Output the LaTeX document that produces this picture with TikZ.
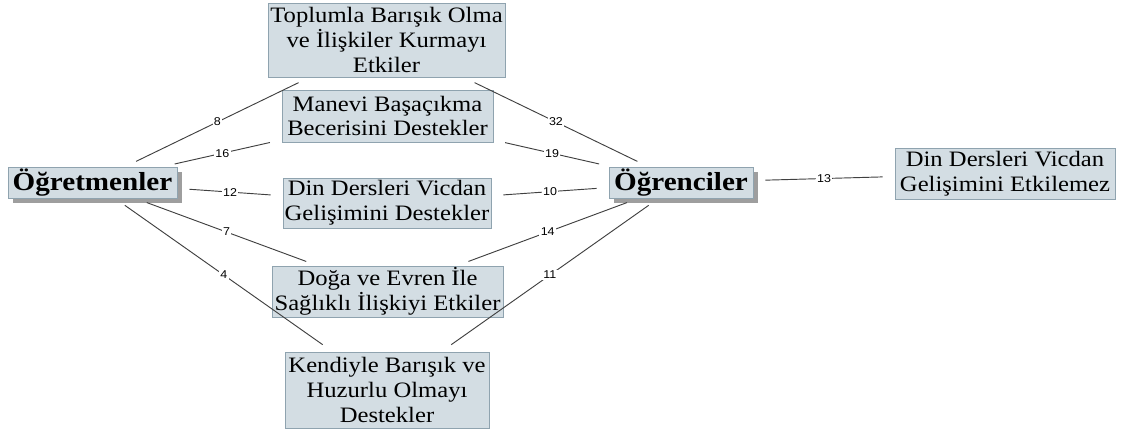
\documentclass[tikz,border=0pt]{standalone}
\usepackage{fontspec}
\setmainfont{Liberation Serif}[FakeStretch=1.12]
\newfontfamily\numfont{Liberation Sans}[FakeStretch=1.1]
\usetikzlibrary{shadows}
\definecolor{boxfill}{HTML}{D3DDE3}
\definecolor{boxline}{HTML}{8FA3AF}
\definecolor{linkgray}{HTML}{404040}
\tikzset{
  item/.style={draw=boxline, fill=boxfill, line width=0.6pt, inner sep=0pt, align=center,
    font=\fontsize{16.5}{18.5}\selectfont},
  group/.style={item, font=\fontsize{19.5}{22}\selectfont\bfseries,
    drop shadow={shadow xshift=3.5pt, shadow yshift=-3.5pt, fill=black!38, opacity=1}},
  link/.style={draw=linkgray, line width=0.7pt, shorten >=9pt, shorten <=9pt},
  count/.style={fill=white, inner sep=1pt, font=\numfont\fontsize{8.5}{9}\selectfont, text=black}
}
\begin{document}
\begin{tikzpicture}[x=0.75pt, y=-0.75pt]
                \useasboundingbox (0, 0) rectangle (1124, 430);
                % the two groups
                \node[group, minimum width=126.75pt, minimum height=23.25pt] (ogretmen) at (92.5, 182.5) {Öğretmenler};
                \node[group, minimum width=108pt, minimum height=23.25pt] (ogrenci) at (681, 182.5) {Öğrenciler};
                % shared themes in the middle column
                \node[item, minimum width=177.75pt, minimum height=55.5pt] (toplum) at (386.5, 40) {Toplumla Barışık Olma\\ve İlişkiler Kurmayı\\Etkiler};
                \node[item, minimum width=158.25pt, minimum height=39pt] (manevi) at (387.5, 116) {Manevi Başaçıkma\\Becerisini Destekler};
                \node[item, minimum width=156pt, minimum height=37.5pt] (vicdan) at (387, 203) {Din Dersleri Vicdan\\Gelişimini Destekler};
                \node[item, minimum width=173.25pt, minimum height=38.25pt] (doga) at (387.5, 291.5) {Doğa ve Evren İle\\Sağlıklı İlişkiyi Etkiler};
                \node[item, minimum width=153pt, minimum height=57pt] (huzur) at (387, 390) {Kendiyle Barışık ve\\Huzurlu Olmayı\\Destekler};
                % only on the students' side
                \node[item, minimum width=165pt, minimum height=38.25pt] (etkilemez) at (1005, 173.5) {Din Dersleri Vicdan\\Gelişimini Etkilemez};
                % teachers
                \draw[link] (ogretmen) -- node[count] {8} (toplum);
                \draw[link] (ogretmen) -- node[count] {16} (manevi);
                \draw[link] (ogretmen) -- node[count] {12} (vicdan);
                \draw[link] (ogretmen) -- node[count] {7} (doga);
                \draw[link] (ogretmen) -- node[count] {4} (huzur);
                % students
                \draw[link] (toplum) -- node[count] {32} (ogrenci);
                \draw[link] (manevi) -- node[count] {19} (ogrenci);
                \draw[link] (vicdan) -- node[count] {10} (ogrenci);
                \draw[link] (doga) -- node[count] {14} (ogrenci);
                \draw[link] (huzur) -- node[count] {11} (ogrenci);
                \draw[link] (ogrenci) -- node[count] {13} (etkilemez);
            \end{tikzpicture}
\end{document}
